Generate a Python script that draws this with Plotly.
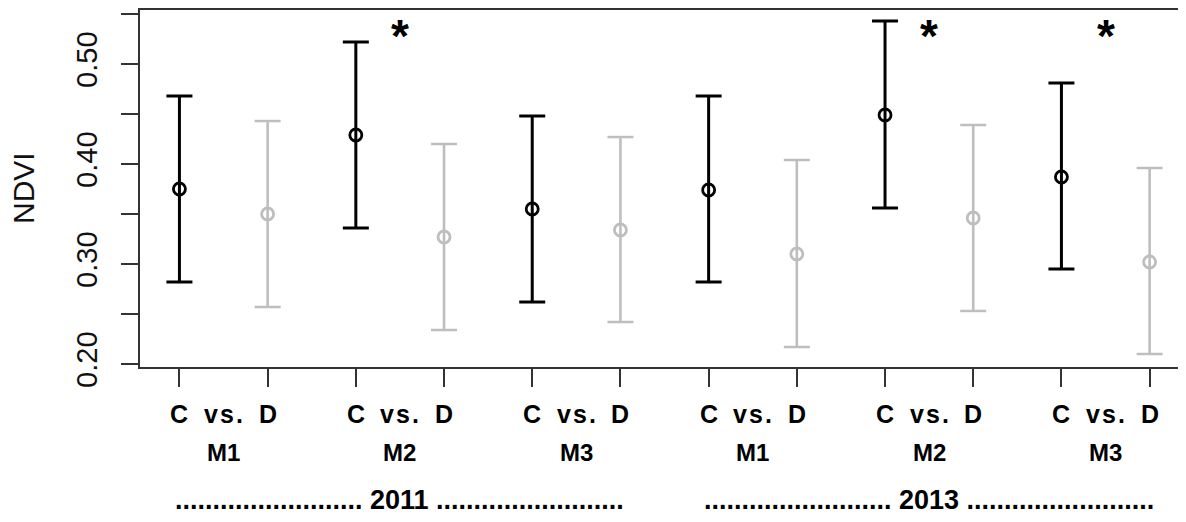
import plotly.graph_objects as go

# ---- data ----
positions_C = [1, 3, 5, 7, 9, 11]
positions_D = [2, 4, 6, 8, 10, 12]
mean_C = [0.375, 0.429, 0.355, 0.374, 0.449, 0.387]
upper_C = [0.468, 0.522, 0.448, 0.468, 0.543, 0.481]
lower_C = [0.282, 0.336, 0.262, 0.282, 0.356, 0.295]
mean_D = [0.350, 0.327, 0.334, 0.310, 0.346, 0.302]
upper_D = [0.443, 0.420, 0.427, 0.404, 0.439, 0.396]
lower_D = [0.257, 0.234, 0.242, 0.217, 0.253, 0.210]

group_labels = ["M1", "M2", "M3", "M1", "M2", "M3"]
group_centers = [1.5, 3.5, 5.5, 7.5, 9.5, 11.5]
years = ["2011", "2013"]
year_centers = [3.5, 9.5]
star_x = [3.5, 9.5, 11.5]
star_y = 0.528

y_tickvals = [0.20, 0.25, 0.30, 0.35, 0.40, 0.45, 0.50, 0.55]
y_ticktext = ["0.20", "", "0.30", "", "0.40", "", "0.50", ""]

FONT = "Liberation Sans, Arial, Helvetica, sans-serif"
BLACK = "#000000"
GREY = "#BEBEBE"
AX = "#333333"

fig = go.Figure()


def add_series(xs, means, lows, highs, color, lw):
    fig.add_trace(go.Scatter(
        x=xs, y=means, mode="markers",
        marker=dict(symbol="circle-open", size=12, color=color,
                    line=dict(width=2.8, color=color)),
        error_y=dict(type="data", symmetric=False,
                     array=[h - m for h, m in zip(highs, means)],
                     arrayminus=[m - l for m, l in zip(means, lows)],
                     color=color, thickness=lw, width=13),
        showlegend=False, hoverinfo="skip"))


add_series(positions_C, mean_C, lower_C, upper_C, BLACK, 3)
add_series(positions_D, mean_D, lower_D, upper_D, GREY, 2.6)

ann = []
# row 1: C vs. D
for c, d in zip(positions_C, positions_D):
    for xv, t in [(c, "C"), ((c + d) / 2, "v\u200as\u200a."), (d, "D")]:
        ann.append(dict(x=xv, y=-0.131, xref="x", yref="paper", text="<b>%s</b>" % t,
                        showarrow=False, xanchor="center", yanchor="middle",
                        font=dict(family=FONT, size=25, color=BLACK)))
# row 2: groups
for xv, t in zip(group_centers, group_labels):
    ann.append(dict(x=xv, y=-0.2396, xref="x", yref="paper", text="<b>%s</b>" % t,
                    showarrow=False, xanchor="center", yanchor="middle",
                    font=dict(family=FONT, size=24, color=BLACK)))
# row 3: years
dots = "." * 25
for xv, t in zip(year_centers, years):
    ann.append(dict(x=xv, y=-0.373, xref="x", yref="paper",
                    text="<b>%s %s %s</b>" % (dots, t, dots),
                    showarrow=False, xanchor="center", yanchor="middle",
                    font=dict(family=FONT, size=27, color=BLACK)))
# stars
for xv in star_x:
    ann.append(dict(x=xv, y=star_y, xref="x", yref="y", text="<b>*</b>",
                    showarrow=False, xanchor="center", yanchor="middle",
                    font=dict(family=FONT, size=46, color=BLACK)))
# y title
ann.append(dict(x=-0.1105, y=0.5, xref="paper", yref="paper", text="NDVI",
                showarrow=False, textangle=-90, xanchor="center", yanchor="middle",
                font=dict(family=FONT, size=30, color="#111111")))

fig.update_layout(
    width=1186, height=522, autosize=False,
    margin=dict(l=132, r=0, t=0, b=163),
    paper_bgcolor="white", plot_bgcolor="white",
    annotations=ann,
    xaxis=dict(range=[0.553, 12.503], tickvals=positions_C + positions_D,
               ticktext=[""] * 12, ticks="outside", ticklen=18, tickwidth=2,
               tickcolor=AX, showline=True, linecolor=AX, linewidth=2, mirror=True,
               showgrid=False, zeroline=False),
    yaxis=dict(range=[0.197, 0.554], tickvals=y_tickvals, ticktext=y_ticktext,
               ticks="outside", ticklen=17, tickwidth=2, tickcolor=AX,
               tickangle=-90, ticklabelstandoff=12,
               tickfont=dict(family=FONT, size=29, color="#111111"),
               showline=True, linecolor=AX, linewidth=2, mirror=False,
               showgrid=False, zeroline=False),
)

fig.write_html("out.html")
